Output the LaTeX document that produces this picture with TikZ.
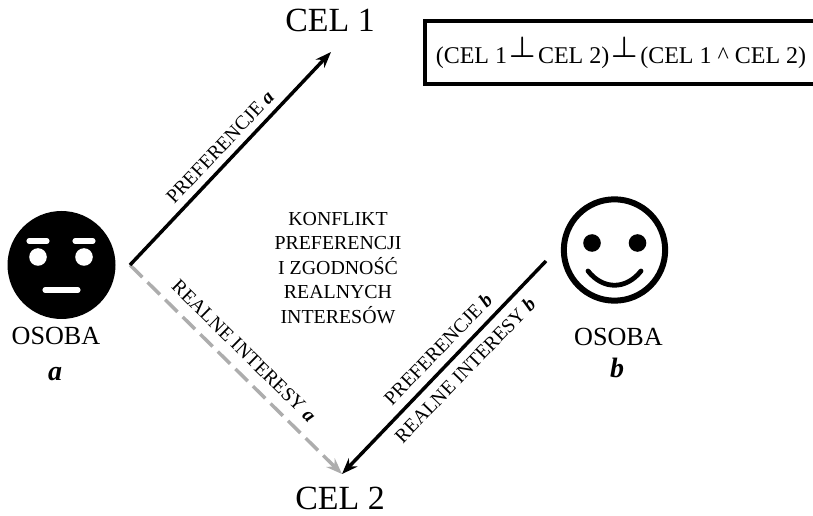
\documentclass[tikz,border=0pt]{standalone}
\usepackage{fontspec}
\usepackage{graphicx}
\setmainfont{Liberation Serif}
\usetikzlibrary{arrows.meta}
\newcommand{\perpmark}{\kern1.7pt\raisebox{4.5pt}{\scalebox{1.28}{\fontsize{17.28}{18}\selectfont\boldmath$\perp$}}\kern1.7pt}
\tikzset{
  lbl/.style={inner sep=0pt,align=center,font=\fontsize{19.6}{22}\selectfont},
  letter/.style={inner sep=0pt,font=\fontsize{21}{22}\selectfont\bfseries\itshape},
  rot/.style={inner sep=0pt,font=\fontsize{14.8}{16}\selectfont},
  cel/.style={inner sep=0pt,font=\fontsize{25.4}{28}\selectfont},
  blk/.style={line width=2.6pt,-{Stealth[length=12pt,width=9pt]}},
  gry/.style={line width=2.6pt,draw=black!32,dash pattern=on 13pt off 5.5pt,-{Stealth[length=12pt,width=9pt]}},
  whiteline/.style={white,line width=3.8pt,line cap=round},
}
\begin{document}
\begin{tikzpicture}[x=0.75pt,y=-0.75pt]
\useasboundingbox (0,0) rectangle (813,516);
% box
\draw[line width=3pt] (830,21.5) -- (425,21.5) -- (425,84) -- (830,84);
\node[inner sep=0pt,font=\fontsize{18}{20}\selectfont] (formula) at (621,53) {(CEL 1\perpmark CEL 2)\perpmark(CEL 1 \^{}\kern0pt\ CEL 2)};
% face a
\node[circle,fill=black,minimum size=81pt,inner sep=0pt] (facea) at (61.5,265) {};
\fill[white] (38,257) circle (8.8);
\fill[white] (84,257) circle (8.8);
\draw[whiteline] (29,241) -- (47,241);
\draw[whiteline] (75,241) -- (93,241);
\draw[whiteline] (45,290) -- (78,290);
% face b
\node[circle,draw=black,line width=4.5pt,minimum size=76pt,inner sep=0pt] (faceb) at (614.5,250) {};
\fill (592,243) circle (8.8);
\fill (637.5,243) circle (8.8);
\draw[line width=3.6pt,line cap=round] (588,271) .. controls (603,290) and (626,290) .. (641,271);
% labels
\node[cel] (cel1) at (330,20) {CEL 1};
\node[cel] (cel2) at (340,498) {CEL 2};
\node[lbl] (osa) at (56,336) {OSOBA};
\node[letter] (osab) at (55,374) {a};
\node[lbl] (osb) at (618.5,337) {OSOBA};
\node[letter] (osbb) at (617,368) {b};
\node[inner sep=0pt,align=center,font=\fontsize{14.9}{18.4}\selectfont] (mid) at (338,268) {KONFLIKT\\PREFERENCJI\\I ZGODNOŚĆ\\REALNYCH\\INTERESÓW};
% connector ends
\coordinate (a0) at (130,265);
\coordinate (c1) at (331,52);
\coordinate (c2) at (342,474);
\coordinate (b0) at (546,261);
\draw[gry] (a0) -- (c2);
\draw[blk] (a0) -- (c1);
\draw[blk] (b0) -- (c2);
% rotated labels
\node[rot,rotate=46.5] (pa) at (220,147) {PREFERENCJE \textbf{\textit{a}}};
\node[rot,rotate=-44.5] (ra) at (244,351) {REALNE INTERESY \textbf{\textit{a}}};
\node[rot,rotate=46] (pb) at (438,349) {PREFERENCJE \textbf{\textit{b}}};
\node[rot,rotate=46] (rb) at (465,370) {REALNE INTERESY \textbf{\textit{b}}};
\end{tikzpicture}
\end{document}
